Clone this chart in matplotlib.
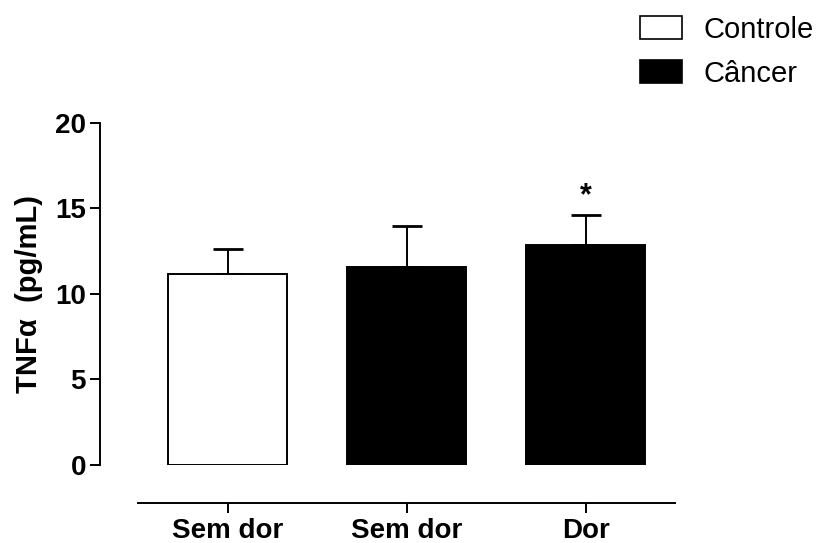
import matplotlib.pyplot as plt
from matplotlib.patches import Patch

groups = ["Sem dor", "Sem dor", "Dor"]
means = [11.15, 11.55, 12.85]
sem = [1.45, 2.4, 1.75]
colors = ["white", "black", "black"]
stars = ["", "", "*"]
legend_labels = ["Controle", "Câncer"]

plt.rcParams["font.family"] = ["Liberation Sans", "DejaVu Sans"]

fig = plt.figure(figsize=(8.24, 5.43), dpi=100)
W, H = 824, 543
ax = fig.add_axes([100 / W, 1 - 465 / H, 620 / W, (465 - 122.7) / H])

x = list(range(len(groups)))
ax.bar(x, means, width=0.665, color=colors, edgecolor="black", linewidth=1.4, zorder=2)
ax.errorbar(x, means, yerr=[[0] * len(sem), sem], fmt="none", ecolor="black",
            elinewidth=1.4, capsize=10.8, capthick=2, zorder=1)
for xi, m, s, st in zip(x, means, sem, stars):
    if st:
        ax.text(xi, m + s + 0.25, st, ha="center", va="bottom", fontsize=22, fontweight="bold")

ax.spines["top"].set_visible(False)
ax.spines["right"].set_visible(False)
ax.spines["left"].set_linewidth(1.4)
ax.spines["bottom"].set_linewidth(1.4)
ax.spines["bottom"].set_position(("outward", 27))
ax.spines["bottom"].set_bounds(-0.5, 2.5)

ax.set_xlim(-0.712, 2.75)
ax.set_ylim(0, 20)
ax.set_yticks([0, 5, 10, 15, 20])
ax.set_xticks(x)
ax.set_xticklabels(groups, fontsize=20, fontweight="bold")
ax.set_yticklabels(["0", "5", "10", "15", "20"], fontsize=20, fontweight="bold")
ax.tick_params(axis="both", direction="out", length=7, width=1.4, colors="black")
ax.tick_params(axis="x", pad=4)
ax.tick_params(axis="y", pad=3)

ax.set_ylabel("TNFα  (pg/mL)", fontsize=21, fontweight="bold", labelpad=9)

handles = [Patch(facecolor=c, edgecolor="black", linewidth=1.2) for c in ["white", "black"]]
fig.legend(handles, legend_labels, loc="upper left", bbox_to_anchor=(628 / W, 1 - 4 / H),
           frameon=False, fontsize=21, handlelength=1.45, handleheight=0.8,
           handletextpad=0.75, labelspacing=0.55, borderaxespad=0)

fig.savefig("out.png", dpi=100)
